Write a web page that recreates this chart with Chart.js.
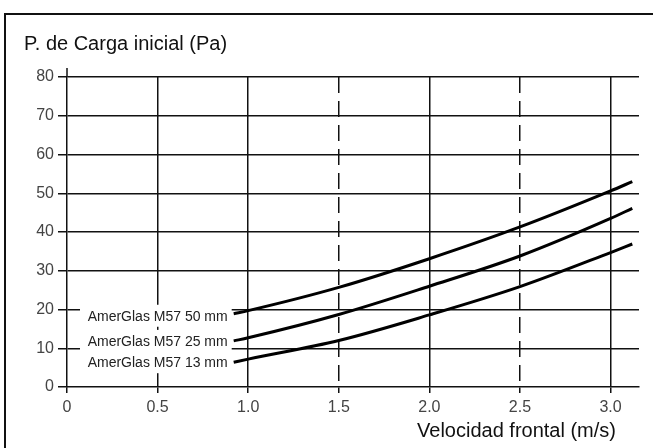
<!DOCTYPE html>
<html>
<head>
<meta charset="utf-8">
<script src="https://cdn.jsdelivr.net/npm/chart.js@4.4.1/dist/chart.umd.min.js"></script>
<style>
  html, body { margin: 0; padding: 0; background: #fff; overflow: hidden; }
  #wrap { position: relative; width: 653px; height: 448px; }
  #frame { position: absolute; left: 4px; top: 13px; width: 700px; height: 500px;
           border-left: 2px solid #111; border-top: 2px solid #111; }
  canvas { position: absolute; left: 0; top: 0; }
</style>
</head>
<body>
<div id="wrap">
  <div id="frame"></div>
  <canvas id="chart" width="653" height="448"></canvas>
</div>
<script>
// Datos
const velocidad = [0.92, 1.0, 1.5, 2.0, 2.5, 3.0, 3.12];
const m57_50mm = [18.9, 19.7, 25.7, 33.1, 41.3, 50.6, 53.0];
const m57_25mm = [11.9, 12.7, 18.7, 26.0, 33.8, 43.5, 46.1];
const m57_13mm = [6.4, 7.2, 12.0, 18.6, 25.9, 34.7, 36.9];
const seriesNames = ["AmerGlas M57 50 mm", "AmerGlas M57 25 mm", "AmerGlas M57 13 mm"];
const xTickValues = [0, 0.5, 1.0, 1.5, 2.0, 2.5, 3.0];
const xTickLabels = ["0", "0.5", "1.0", "1.5", "2.0", "2.5", "3.0"];
const yTickValues = [0, 10, 20, 30, 40, 50, 60, 70, 80];
const yTickLabels = ["0", "10", "20", "30", "40", "50", "60", "70", "80"];
const dashedAt = [1.5, 2.5];

const fontFam = "'Liberation Sans', Arial, sans-serif";
Chart.defaults.font.family = fontFam;

function toPoints(ys) {
    return ys.map((y, i) => ({ x: velocidad[i], y: y }));
}

function serie(ys) {
    return {
        data: toPoints(ys),
        borderColor: "#000",
        borderWidth: 3,
        pointRadius: 0,
        showLine: true,
        fill: false,
        cubicInterpolationMode: "monotone"
    };
}

// etiquetas de las curvas con fondo blanco + titulos de ejes
const textos = {
    id: "textos",
    beforeDatasetsDraw(chart) {
        const ctx = chart.ctx;
        const x = chart.scales.x, y = chart.scales.y;
        ctx.save();
        // prolongación del eje Y por encima de 80
        ctx.strokeStyle = "#111";
        ctx.lineWidth = 1.5;
        ctx.beginPath();
        ctx.moveTo(x.left, y.top);
        ctx.lineTo(x.left, y.top - 9);
        ctx.stroke();

        ctx.font = "14px " + fontFam;
        ctx.textAlign = "right";
        ctx.textBaseline = "middle";
        chart.data.datasets.forEach((ds, i) => {
            const p0 = ds.data[0];
            const py = y.getPixelForValue(p0.y) + (i === 0 ? 2 : 0);
            const right = x.getPixelForValue(p0.x) - 2;
            ctx.fillStyle = "#fff";
            ctx.fillRect(80, py - 11, right - 80, 22);
            ctx.fillStyle = "#222";
            ctx.fillText(seriesNames[i], right - 4, py + 1);
        });
        ctx.restore();
    },
    afterDraw(chart) {
        const ctx = chart.ctx;
        ctx.save();
        ctx.fillStyle = "#111";
        ctx.font = "20px " + fontFam;
        ctx.textBaseline = "middle";
        ctx.textAlign = "left";
        ctx.fillText("P. de Carga inicial (Pa)", 24, 44);
        ctx.textAlign = "right";
        ctx.fillText("Velocidad frontal (m/s)", 616, 431);
        ctx.restore();
    }
};

const ctx = document.getElementById("chart").getContext("2d");
new Chart(ctx, {
    type: "scatter",
    data: {
        datasets: [serie(m57_50mm), serie(m57_25mm), serie(m57_13mm)]
    },
    options: {
        responsive: false,
        animation: false,
        layout: { padding: { left: 0, top: 77, right: 14, bottom: 0 } },
        plugins: {
            legend: { display: false },
            tooltip: { enabled: false }
        },
        scales: {
            x: {
                type: "linear",
                min: 0,
                max: 3.157,
                afterBuildTicks: (s) => {
                    s.ticks = xTickValues.map(v => ({ value: v }));
                },
                afterFit: (s) => { s.height = 61; },
                ticks: {
                    color: "#444",
                    font: { size: 16 },
                    padding: 5,
                    callback: (v, i) => xTickLabels[i]
                },
                grid: {
                    color: (c) => c.tick && c.tick.value === 0 ? "rgba(0,0,0,0)" : "#111",
                    tickColor: "#111",
                    lineWidth: 1.5,
                    tickLength: 6
                },
                border: {
                    display: true,
                    color: "#111",
                    width: 1.5,
                    dash: (c) => c.tick && dashedAt.includes(c.tick.value) ? [16, 8] : []
                }
            },
            y: {
                type: "linear",
                min: 0,
                max: 80,
                afterBuildTicks: (s) => {
                    s.ticks = yTickValues.map(v => ({ value: v }));
                },
                afterFit: (s) => { s.width = 67; },
                ticks: {
                    color: "#444",
                    font: { size: 16 },
                    padding: 4,
                    callback: (v, i) => yTickLabels[i]
                },
                grid: {
                    color: (c) => c.tick && c.tick.value === 0 ? "rgba(0,0,0,0)" : "#111",
                    tickColor: "#111",
                    lineWidth: 1.5,
                    tickLength: 9
                },
                border: { display: true, color: "#111", width: 1.5 }
            }
        }
    },
    plugins: [textos]
});
</script>
</body>
</html>
